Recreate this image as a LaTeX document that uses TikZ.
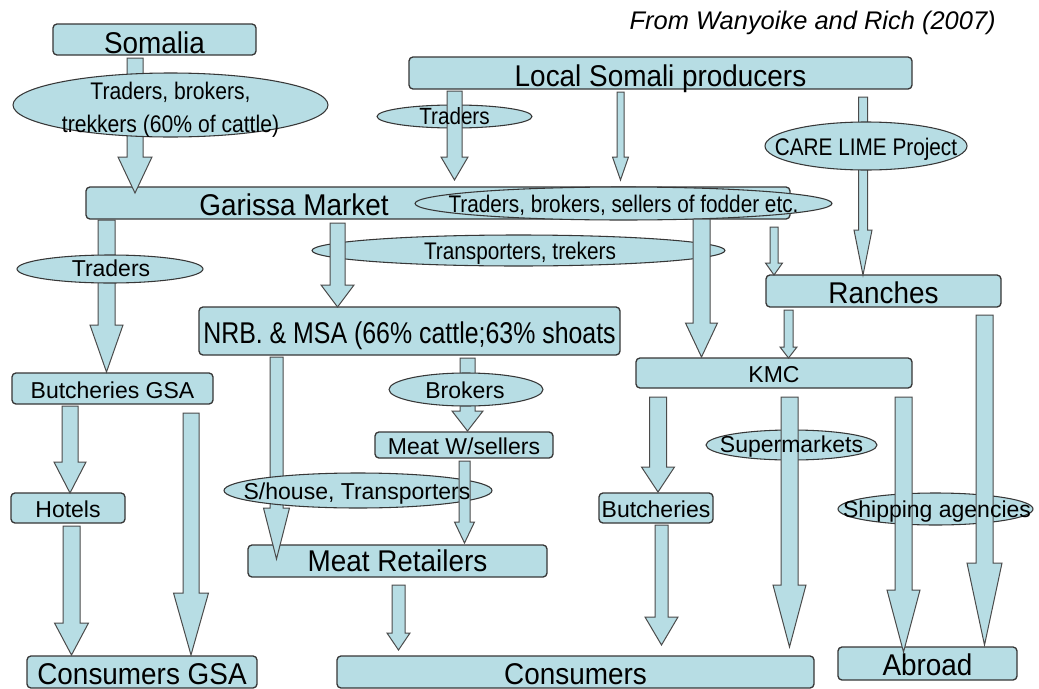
\documentclass[tikz,border=0pt]{standalone}
\usepackage{fontspec}
\setmainfont{Liberation Sans}
\newfontfamily\bigf{Liberation Sans}[FakeStretch=0.93]
\newfontfamily\nrbf{Liberation Sans}[FakeStretch=0.83]
\newfontfamily\cnd{Liberation Sans}[FakeStretch=0.865]
\newfontfamily\cndb{Liberation Sans}[FakeStretch=0.88]
\usetikzlibrary{shapes.geometric}

\definecolor{boxfill}{RGB}{183,221,228}
\definecolor{edge}{RGB}{55,55,55}
\definecolor{arredge}{RGB}{75,75,75}

% block arrow pointing down: x, top y, tip y, shaft width, head width, head length
\newcommand\blockarr[6]{%
  \filldraw[arr] ({#1-#4/2},#2) -- ({#1+#4/2},#2) -- ({#1+#4/2},{#3-#6})
    -- ({#1+#5/2},{#3-#6}) -- (#1,#3) -- ({#1-#5/2},{#3-#6})
    -- ({#1-#4/2},{#3-#6}) -- cycle;}

\tikzset{
  box/.style 2 args={draw=edge, line width=1pt, fill=boxfill, rounded corners=3pt,
    inner sep=0pt, minimum width=#1*0.75pt, minimum height=#2*0.75pt},
  ell/.style 2 args={ellipse, draw=edge, line width=0.8pt, fill=boxfill,
    inner sep=0pt, minimum width=#1*0.75pt, minimum height=#2*0.75pt},
  bigb/.style={font=\bigf\fontsize{22.5}{26}\selectfont, text height=18.3pt, text depth=0pt},
  nrbb/.style={font=\nrbf\fontsize{22.5}{26}\selectfont, text height=18.3pt, text depth=0pt},
  smb/.style={font=\fontsize{17.25}{21}\selectfont, text height=14.5pt, text depth=0pt},
  sm/.style={font=\fontsize{17.25}{21}\selectfont, text height=12.35pt, text depth=0pt, inner sep=0pt},
  smn/.style={font=\cnd\fontsize{18}{22}\selectfont, text height=12.9pt, text depth=0pt, inner sep=0pt},
  smt/.style={font=\cndb\fontsize{17.6}{21}\selectfont, text height=12.6pt, text depth=0pt, inner sep=0pt},
  arr/.style={draw=arredge, line width=0.75pt, fill=boxfill},
}

\begin{document}
\begin{tikzpicture}[x=0.75pt,y=-0.75pt]
\fill[white] (0,0) rectangle (1039,689);
\useasboundingbox (0,0) rectangle (1039,689);

% source note
\node[font=\itshape\fontsize{19.1}{23}\selectfont, anchor=east, inner sep=0pt] (note) at (996,23) {From Wanyoike and Rich (2007)};

% boxes
\node[box={203}{31}, bigb, text height=20.6pt] (somalia) at (154.5,39.5) {Somalia};
\node[box={503}{32}, bigb, text height=20.6pt] (local) at (660.5,73) {Local Somali producers};
\node[box={704}{32}] (garissa) at (438,203) {};
\node[bigb, inner sep=0pt] (garissa-t) at (294,203) {Garissa Market};
\node[box={235}{32}, bigb] (ranches) at (883.5,291) {Ranches};
\node[box={421}{48}, nrbb] (nrb) at (409.5,331) {NRB. \& MSA (66\% cattle;63\% shoats};
\node[box={276}{30}, smb] (kmc) at (774,373) {KMC};
\node[box={201}{31}, smb, text height=15.5pt] (butgsa) at (112.5,388.5) {Butcheries GSA};
\node[box={178}{26}, smb] (meatw) at (464,445) {Meat W/sellers};
\node[box={114}{30}, smb] (hotels) at (68,508) {Hotels};
\node[box={114}{30}, smb] (butch) at (656,508) {Butcheries};
\node[box={299}{32}, bigb, text height=16.1pt] (meatr) at (397.5,561) {Meat Retailers};
\node[box={230}{32}, bigb] (congsa) at (142,672) {Consumers GSA};
\node[box={477}{32}, bigb] (consumers) at (575.5,672) {Consumers};
\node[box={179}{33}, bigb] (abroad) at (927.5,663.5) {Abroad};

% arrows running beneath the ellipses
\blockarr{135}{58}{193}{16}{34}{36}
\blockarr{863}{97}{275}{9}{18}{45}
\blockarr{106.5}{220}{372}{17}{33}{47}
\blockarr{276.5}{357}{559}{13}{26}{51}
\blockarr{467.5}{358}{431}{15}{31}{20}

% ellipses
\node[ell={315}{64}] (somtr) at (170.5,105) {};
\node[ell={155}{23}] (trtop) at (454.5,116.5) {};
\node[ell={202}{48}] (care) at (866,146) {};
\node[ell={417}{33}] (fodder) at (623.5,203.5) {};
\node[ell={186}{28}] (trleft) at (110,269) {};
\node[ell={413}{31}] (transp) at (518.5,250.5) {};
\node[ell={154}{33}] (brokers) at (466,389.5) {};
\node[ell={268}{35}] (shouse) at (358,490.5) {};
\node[ell={171}{30}] (superm) at (791.5,445) {};
\node[ell={195}{32}] (ship) at (935.5,509) {};

% arrows running over the ellipses
\blockarr{454.5}{91}{180}{15}{27}{23}
\blockarr{620.5}{92}{180}{7}{16}{23}
\blockarr{337.5}{223}{307}{15}{33}{22}
\blockarr{701.5}{219}{357}{17}{32}{34}
\blockarr{774}{227}{275}{8}{17}{12}
\blockarr{788.5}{310}{358}{9}{17}{11}
\blockarr{464.5}{461}{543}{11}{20}{21}
\blockarr{70}{406}{493}{16}{32}{31}
\blockarr{191}{413}{655}{16}{35}{62}
\blockarr{71.5}{526}{655}{17}{34}{32}
\blockarr{398.5}{585}{650}{13}{23}{17}
\blockarr{658}{397}{492}{17}{33}{25}
\blockarr{661.5}{525}{645}{13}{33}{28}
\blockarr{789.5}{397}{647}{17}{33}{62}
\blockarr{903.5}{397}{652}{17}{33}{62}
\blockarr{984.5}{315}{645}{17}{35}{82}

% ellipse labels
\node[font=\cndb\fontsize{18}{24.75}\selectfont, align=center, inner sep=0pt] (somtr-t) at (170.5,109.5) {Traders, brokers,\\trekkers (60\% of cattle)};
\node[smt] (trtop-t) at (trtop) {Traders};
\node[smn] (care-t) at (866,147) {CARE LIME Project};
\node[smn] (fodder-t) at (623.5,203.5) {Traders, brokers, sellers of fodder etc.};
\node[sm] (trleft-t) at (111,268.5) {Traders};
\node[smn] (transp-t) at (520,251) {Transporters, trekers};
\node[sm] (brokers-t) at (465,390) {Brokers};
\node[sm] (shouse-t) at (357,491) {S/house, Transporters};
\node[sm] (superm-t) at (791.5,444.5) {Supermarkets};
\node[sm] (ship-t) at (937,509.5) {Shipping agencies};
\end{tikzpicture}
\end{document}
